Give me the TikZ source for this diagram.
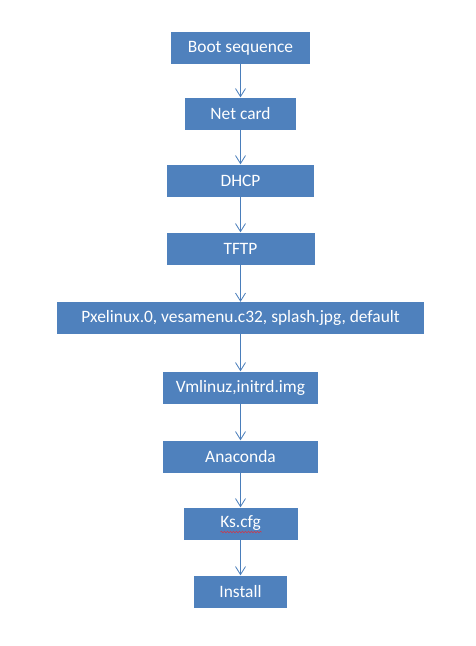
\documentclass[tikz,border=0pt]{standalone}
\usepackage{fontspec}
\setmainfont{Carlito}
\usetikzlibrary{arrows.meta,decorations.pathmorphing}
\definecolor{boxblue}{RGB}{79,129,189}
\definecolor{lineblue}{RGB}{74,126,187}
\definecolor{spellred}{RGB}{200,60,80}

\begin{document}
\begin{tikzpicture}[x=1pt,y=-1pt,
				every node/.style={rectangle,fill=boxblue,text=white,minimum height=32pt,inner sep=0pt,font=\fontsize{17.4}{20}\selectfont},
				grow=down,
				edge from parent/.style={draw=lineblue,line width=0.8pt,-{Straight Barb[length=8pt,width=10pt]}},
				level 1/.style={level distance=65.5pt},
				level 2/.style={level distance=67pt},
				level 3/.style={level distance=68pt},
				level 4/.style={level distance=69.5pt},
				level 5/.style={level distance=69.5pt},
				level 6/.style={level distance=69pt},
				level 7/.style={level distance=67pt},
				level 8/.style={level distance=68pt},
				spellmark/.style={draw=spellred,line width=0.6pt,decorate,decoration={snake,segment length=3pt,amplitude=0.8pt}}]
\useasboundingbox (0,0) rectangle (475,646);
\node[minimum width=139pt] (boot) at (240.5,48) {Boot sequence}
child { node[minimum width=111pt] (net) {Net card}
	child { node[minimum width=147pt] (dhcp) {DHCP}
		child { node[minimum width=148pt] (tftp) {TFTP}
			child { node[minimum width=367pt] (pxe) {Pxelinux.0, vesamenu.c32, splash.jpg, default}
				child { node[minimum width=155pt] (vml) {Vmlinuz,initrd.img}
					child { node[minimum width=155pt] (ana) {Anaconda}
						child { node[minimum width=114pt] (ks) {Ks.cfg}
							child { node[minimum width=93pt] (inst) {Install} }
						}
					}
				}
			}
		}
	}
};
\draw[spellmark] ([xshift=-20pt,yshift=-8.5pt]ks.center) -- ++(41,0);
\end{tikzpicture}
\end{document}
